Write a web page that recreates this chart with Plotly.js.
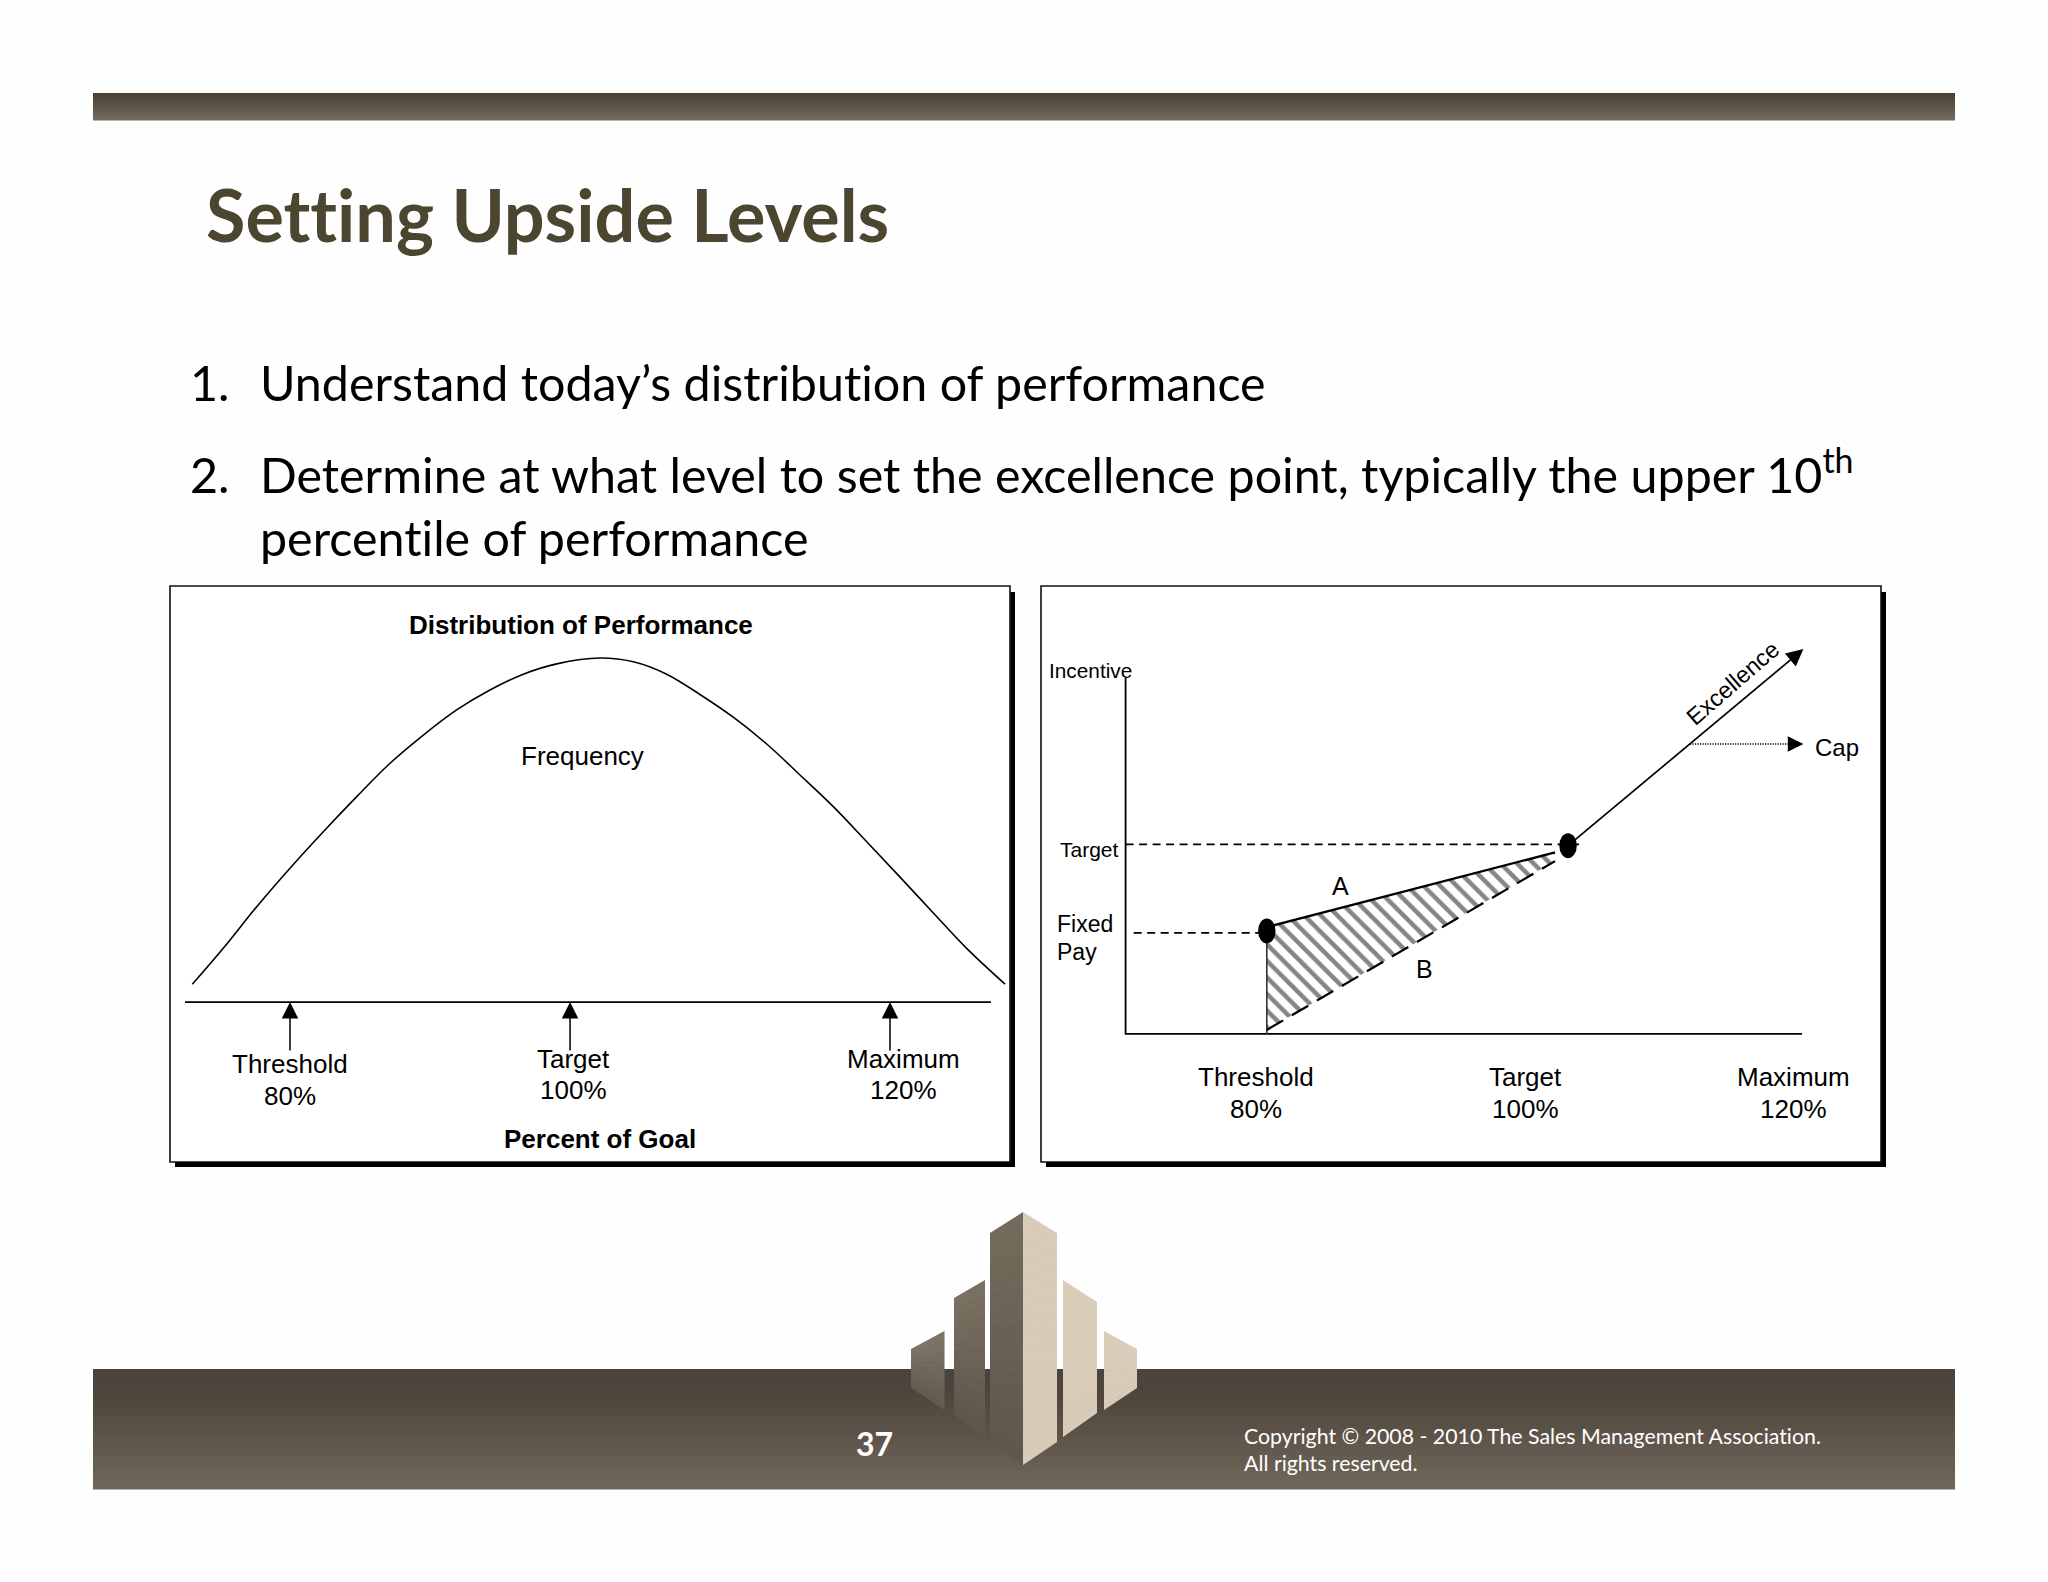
<!DOCTYPE html>
<html><head><meta charset="utf-8">
<script src="https://cdn.plot.ly/plotly-3.0.1.min.js"></script>
<style>html,body{margin:0;padding:0;background:#fefefe}#c{width:2048px;height:1582px}
svg text{font-variant-ligatures:none !important;font-feature-settings:"liga" 0,"clig" 0 !important}</style>
</head><body><div id="c"></div>
<script>
// ---- data ----
const curvePct  = [73.49,75.55,77.78,80,82.22,84.45,86.67,88.89,91.11,93.33,95.55,97.78,100.67,102.89,105.11,107.33,109.55,111.78,114,116.22,118.45,120.67,122.89,125.11,127.67];
const curveFreq = [5.15,15.6,27.7,38.9,49.5,59.7,69.4,77.6,84.9,90.7,95.3,98.3,100,98.9,95.3,89.4,82.8,75,66,56.8,46.6,36.3,25.9,15.6,5.2];
const baseX = [73,126.73];
const markerNames = ['Threshold','Target','Maximum'];
const markerPcts  = ['80%','100%','120%'];
const leftArrowX  = [80,98.67,120];
const leftLabelX  = [80,98.87,120.93];

const rightLabelX = [80,100,120];
const axisCornerX = 70.3, axisEndX = 120.6, axisTopY = 187.4;
const thresholdPt = [80.8,54.2];
const targetPt    = [103.2,99.1];
const lineA = {x:[80.8,102.23], y:[56.2,95.6]};
const lineB = {x:[80.8,102.23], y:[2.1,91]};
const targetDash = {x:[70.3,104.1], y:[99.8,99.8]};
const fixedDash  = {x:[70.9,80.8], y:[53.2,53.2]};
const excellenceEnd = [120.7,202.6];
const capStart = [112.27,152.6], capEnd = [120.7,152.6];

// ---- helpers: page pixels to paper fractions ----
const W=2048,H=1582, PX=x=>x/W, PY=y=>1-y/H;
const hex=(a,b,t)=>{const p=s=>[1,3,5].map(i=>parseInt(s.substr(i,2),16));const A=p(a),B=p(b);
  return 'rgb('+A.map((v,i)=>Math.round(v+(B[i]-v)*t)).join(',')+')';};
const rectPx=(x0,y0,x1,y1,c,layer)=>({type:'rect',xref:'paper',yref:'paper',x0:PX(x0),x1:PX(x1),y0:PY(y1),y1:PY(y0),fillcolor:c,line:{width:0},layer:layer||'below'});
const shapes=[];
function gradBar(y0,y1,c0,cm,c1,tm){const n=Math.round((y1-y0)/3);for(let i=0;i<n;i++){const t=i/(n-1);
  const c=t<tm?hex(c0,cm,t/tm):hex(cm,c1,(t-tm)/(1-tm));
  shapes.push(rectPx(93,y0+(y1-y0)*i/n,1955,y0+(y1-y0)*(i+1)/n+0.6,c));}}
gradBar(93,120,'#4c4137','#54493f','#74695d',0.25);
gradBar(1369,1489,'#4a433e','#4f463c','#70665a',0.22);
function panel(x0,x1){
  shapes.push(rectPx(x0+5,592,x1+5,1167,'#000'));
  shapes.push({type:'rect',xref:'paper',yref:'paper',x0:PX(x0),x1:PX(x1),y0:PY(1162),y1:PY(586),fillcolor:'#fff',line:{color:'#111',width:1.6},layer:'below'});
}
panel(170,1010); panel(1041,1881);
// logo
const bars=[
 [911,944.5,1349,1331,1388,1410,'#7d7365','#62594d'],
 [954,985,1298,1280,1415,1438,'#7a7062','#5c5448'],
 [990,1023,1233,1212,1442,1465,'#736a5c','#5f564a'],
 [1023,1057,1212,1233,1465,1442,'#d8cbb8','#d8cbb8'],
 [1063,1097,1280,1302,1437,1413,'#dacdba','#d8cbb8'],
 [1104,1137,1331,1349,1410,1388,'#dacdba','#d8cbb8']];
bars.forEach(b=>{const [x0,x1,t0,t1,b0,b1,c0,c1]=b,n=14;for(let i=0;i<n;i++){
  const a=i/n,e=(i+1)/n,P=(y0,y1)=>PY(y0+(y1-y0)*a),Q=(y0,y1)=>PY(y0+(y1-y0)*e+(i<n-1?0.5:0));
  shapes.push({type:'path',xref:'paper',yref:'paper',layer:'below',line:{width:0},fillcolor:hex(c0,c1,a),
   path:`M${PX(x0)},${P(t0,b0)}L${PX(x1)},${P(t1,b1)}L${PX(x1)},${Q(t1,b1)}L${PX(x0)},${Q(t0,b0)}Z`});}});
// dots
[thresholdPt,targetPt].forEach(p=>shapes.push({type:'circle',xref:'x2',yref:'y2',x0:p[0]-0.65,x1:p[0]+0.65,y0:p[1]-6.6,y1:p[1]+6.6,fillcolor:'#000',line:{width:0},layer:'above'}));

// ---- traces ----
const L=(x,y,w,dash,xa,ya,c)=>({type:'scatter',mode:'lines',x,y,xaxis:xa,yaxis:ya,hoverinfo:'skip',showlegend:false,line:{color:c||'#000',width:w,dash:dash||'solid'}});
const traces=[
 Object.assign(L(curvePct,curveFreq,1.6,'solid','x','y'),{line:{color:'#000',width:1.6,shape:'spline',smoothing:1}}),
 L(baseX,[0,0],1.8,'solid','x','y'),
 {type:'scatter',mode:'lines',xaxis:'x2',yaxis:'y2',hoverinfo:'skip',showlegend:false,
  x:[lineA.x[0],lineA.x[1],lineB.x[1],lineB.x[0],lineA.x[0]],y:[lineA.y[0],lineA.y[1],lineB.y[1],lineB.y[0],lineA.y[0]],
  line:{width:0},fill:'toself',fillcolor:'rgba(255,255,255,0)',
  fillpattern:{shape:'\\',fgcolor:'#858585',bgcolor:'#fff',size:11.7,solidity:0.38}},
 L([axisCornerX,axisCornerX,axisEndX],[axisTopY,0,0],1.8,'solid','x2','y2'),
 L([thresholdPt[0],thresholdPt[0]],[0,thresholdPt[1]],1.6,'solid','x2','y2','#333'),
 L(lineA.x,lineA.y,2.4,'solid','x2','y2'),
 L(lineB.x,lineB.y,2.2,'19px,10px','x2','y2'),
 L(targetDash.x,targetDash.y,1.6,'8px,5.5px','x2','y2'),
 L(fixedDash.x,fixedDash.y,1.6,'8px,5.5px','x2','y2'),
 L([capStart[0],capEnd[0]-0.8],[capStart[1],capEnd[1]],1.6,'1.2px,1.3px','x2','y2')
];

// ---- text ----
const ann=[];
const T=(text,x,y,size,o={})=>ann.push(Object.assign({text,xref:'paper',yref:'paper',x:PX(x),y:PY(y),showarrow:false,xanchor:'center',yanchor:'middle',
  font:{family:'"Liberation Sans",Arial,sans-serif',size,color:'#000'}},o));
const lato=(size,color,weight)=>({family:'Lato,sans-serif',size,color,weight:weight||400});
T('Setting Upside Levels',204,214,72,{xanchor:'left',font:lato(72,'#4a4630',700)});
T('1.',188,382,48.4,{xanchor:'left',font:lato(48.4,'#000')});
T('Understand today’s distribution of performance',258,382,48.4,{xanchor:'left',font:lato(48.4,'#000')});
T('2.',188,474,48.4,{xanchor:'left',font:lato(48.4,'#000')});
T('Determine at what level to set the excellence point, typically the upper 10<sup>th</sup>',258,471,48.4,{xanchor:'left',font:lato(48.4,'#000')});
T('percentile of performance',258,537,48.4,{xanchor:'left',font:lato(48.4,'#000')});
T('37',874,1443,32,{font:lato(32,'#fff',700)});
T('Copyright © 2008 - 2010 The Sales Management Association.',1242,1436,21.3,{xanchor:'left',font:lato(21.3,'#fff')});
T('All rights reserved.',1242,1463,21.3,{xanchor:'left',font:lato(21.3,'#fff')});

const bold={family:'"Liberation Sans",Arial,sans-serif',size:26,color:'#000',weight:700};
T('Distribution of Performance',580.5,625,26,{font:bold});
T('Percent of Goal',599.5,1139,26,{font:bold});
T('Frequency',582.5,756,26);
markerNames.forEach((n,i)=>{
  const yN=[1064,1059,1059][i],yP=[1096,1090,1090][i];
  const d=()=>({xref:'x',yref:'paper',x:leftLabelX[i]});
  T(n,0,yN,26,d()); T(markerPcts[i],0,yP,26,d());
  ann.push({xref:'x',yref:'y',axref:'x',ayref:'y',x:leftArrowX[i],y:0,ax:leftArrowX[i],ay:-14.5,text:'',showarrow:true,arrowhead:2,arrowsize:2.2,arrowwidth:1.5,arrowcolor:'#000'});
  const d2=()=>({xref:'x2',yref:'paper',x:rightLabelX[i]});
  T(n,0,1077,26,d2()); T(markerPcts[i],0,1109,26,d2());
});
T('Incentive',1047,670,20.8,{xanchor:'left'});
T('Target',1121,849,21,{xanchor:'right'});
T('Fixed',1055,924,23,{xanchor:'left'});
T('Pay',1055,952,23,{xanchor:'left'});
T('A',1340,886,25);
T('B',1424,969,25);
T('Cap',1813,747,24,{xanchor:'left'});
T('Excellence',1733,683,23.5,{textangle:-41});
ann.push({xref:'x2',yref:'y2',axref:'x2',ayref:'y2',x:excellenceEnd[0],y:excellenceEnd[1],ax:targetPt[0],ay:targetPt[1],text:'',showarrow:true,arrowhead:2,arrowsize:2,arrowwidth:1.7,arrowcolor:'#000'});
ann.push({xref:'x2',yref:'y2',axref:'x2',ayref:'y2',x:capEnd[0],y:capEnd[1],ax:capEnd[0]-1,ay:capEnd[1],text:'',showarrow:true,arrowhead:2,arrowsize:2.4,arrowwidth:1.3,arrowcolor:'#000'});

const hid=(domain,range,anchor)=>({domain,range,anchor,visible:false,fixedrange:true});
const layout={width:W,height:H,margin:{l:0,r:0,t:0,b:0},paper_bgcolor:'#fefefe',plot_bgcolor:'rgba(0,0,0,0)',showlegend:false,
  xaxis:hid([PX(170),PX(1010)],[72,128],'y'),
  yaxis:hid([PY(1162),PY(586)],[-46.5,120.93],'x'),
  xaxis2:hid([PX(1041),PX(1881)],[64.01,126.47],'y2'),
  yaxis2:hid([PY(1162),PY(586)],[-67.4,235.8],'x2'),
  shapes,annotations:ann};
Plotly.newPlot('c',traces,layout,{staticPlot:true,displayModeBar:false});
</script></body></html>
